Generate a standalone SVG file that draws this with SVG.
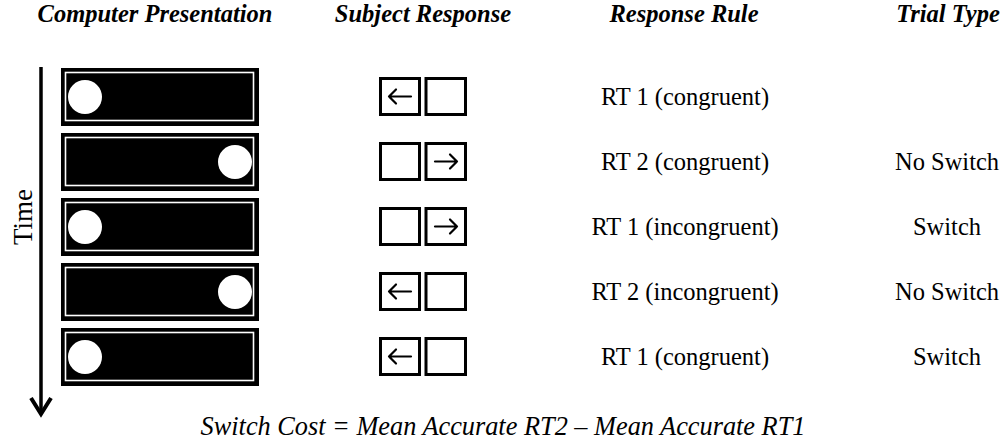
<svg xmlns="http://www.w3.org/2000/svg" width="1004" height="444" viewBox="0 0 1004 444">
<style>
text{font-family:"Liberation Serif","Times New Roman",serif;fill:#000}
.hd{font-size:24.5px;font-weight:bold;font-style:italic;text-anchor:middle}
.tx{font-size:24.5px;text-anchor:middle}
.fm{font-size:28px;font-style:italic;text-anchor:middle}
.bar{fill:#000}
.inner{fill:none;stroke:#fff;stroke-width:1.6}
.dot{fill:#fff}
.box{fill:#fff;stroke:#000;stroke-width:3}
.arr{fill:none;stroke:#000;stroke-width:2.2;stroke-linecap:round;stroke-linejoin:round}
</style>
<g id="headers">
<text class="hd" x="155" y="22">Computer Presentation</text>
<text class="hd" x="423" y="22">Subject Response</text>
<text class="hd" x="684" y="22">Response Rule</text>
<text class="hd" x="948" y="22">Trial Type</text>
</g>
<g id="time-axis">
<line x1="41" y1="67" x2="41" y2="413" stroke="#000" stroke-width="3.5"/>
<polyline points="31,398 41,414 51,398" fill="none" stroke="#000" stroke-width="4"/>
<text class="tx" transform="translate(32,217) rotate(-90)" style="font-size:27px">Time</text>
</g>
<g id="trial1">
<rect class="bar" x="61" y="68" width="198" height="58"/>
<rect class="inner" x="65.5" y="72.5" width="188" height="48"/>
<circle class="dot" cx="85" cy="97" r="17"/>
<rect class="box" x="380.5" y="78.5" width="39" height="36"/>
<rect class="box" x="426" y="78.5" width="39.5" height="36"/>
<path class="arr" d="M389,96.5H411M396,89.5L389,96.5L396,103.5"/>
<text class="tx" x="685" y="105">RT 1 (congruent)</text>
</g>
<g id="trial2">
<rect class="bar" x="61" y="133" width="198" height="58"/>
<rect class="inner" x="65.5" y="137.5" width="188" height="48"/>
<circle class="dot" cx="235" cy="162" r="17"/>
<rect class="box" x="380.5" y="143.5" width="39" height="36"/>
<rect class="box" x="426" y="143.5" width="39.5" height="36"/>
<path class="arr" d="M435,161.5H457M450,154.5L457,161.5L450,168.5"/>
<text class="tx" x="685" y="170">RT 2 (congruent)</text>
<text class="tx" x="947" y="170">No Switch</text>
</g>
<g id="trial3">
<rect class="bar" x="61" y="198" width="198" height="58"/>
<rect class="inner" x="65.5" y="202.5" width="188" height="48"/>
<circle class="dot" cx="85" cy="227" r="17"/>
<rect class="box" x="380.5" y="208.5" width="39" height="36"/>
<rect class="box" x="426" y="208.5" width="39.5" height="36"/>
<path class="arr" d="M435,226.5H457M450,219.5L457,226.5L450,233.5"/>
<text class="tx" x="685" y="235">RT 1 (incongruent)</text>
<text class="tx" x="947" y="235">Switch</text>
</g>
<g id="trial4">
<rect class="bar" x="61" y="263" width="198" height="58"/>
<rect class="inner" x="65.5" y="267.5" width="188" height="48"/>
<circle class="dot" cx="235" cy="292" r="17"/>
<rect class="box" x="380.5" y="273.5" width="39" height="36"/>
<rect class="box" x="426" y="273.5" width="39.5" height="36"/>
<path class="arr" d="M389,291.5H411M396,284.5L389,291.5L396,298.5"/>
<text class="tx" x="685" y="300">RT 2 (incongruent)</text>
<text class="tx" x="947" y="300">No Switch</text>
</g>
<g id="trial5">
<rect class="bar" x="61" y="328" width="198" height="58"/>
<rect class="inner" x="65.5" y="332.5" width="188" height="48"/>
<circle class="dot" cx="85" cy="357" r="17"/>
<rect class="box" x="380.5" y="338.5" width="39" height="36"/>
<rect class="box" x="426" y="338.5" width="39.5" height="36"/>
<path class="arr" d="M389,356.5H411M396,349.5L389,356.5L396,363.5"/>
<text class="tx" x="685" y="365">RT 1 (congruent)</text>
<text class="tx" x="947" y="365">Switch</text>
</g>
<g id="formula">
<text class="fm" transform="translate(503,435) scale(0.94,1)">Switch Cost = Mean Accurate RT2 – Mean Accurate RT1</text>
</g>
</svg>
